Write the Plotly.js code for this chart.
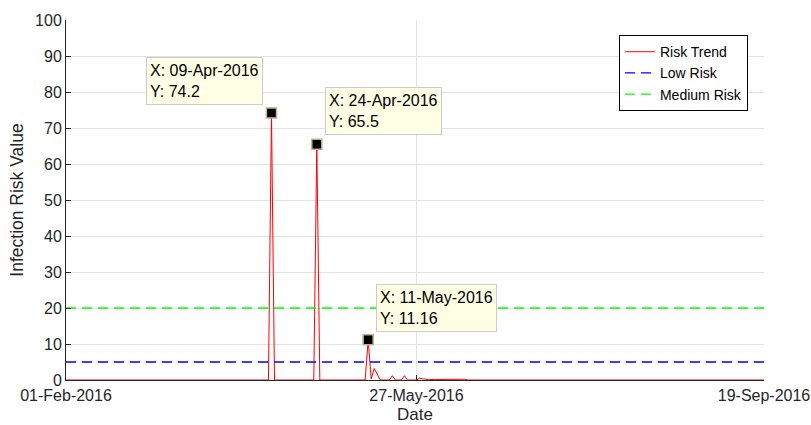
<!DOCTYPE html>
<html>
<head>
<meta charset="utf-8">
<script src="https://cdn.plot.ly/plotly-3.0.1.min.js"></script>
<style>
html,body{margin:0;padding:0;background:#fff;}
#chart{width:811px;height:425px;}
</style>
</head>
<body>
<div id="chart"></div>
<script>
// Risk trend series (days not listed are 0; line is linear between listed points)
const trendDates = [
  '2016-02-01','2016-04-08','2016-04-09','2016-04-10',
  '2016-04-23','2016-04-24','2016-04-25',
  '2016-05-10','2016-05-11','2016-05-12','2016-05-13','2016-05-14','2016-05-15',
  '2016-05-18','2016-05-19','2016-05-20',
  '2016-05-22','2016-05-23','2016-05-24',
  '2016-05-27','2016-05-28','2016-05-29','2016-05-30','2016-05-31',
  '2016-06-02','2016-06-04','2016-06-06','2016-06-08','2016-06-10','2016-06-12','2016-06-13',
  '2016-09-19'
];
const trendValues = [
  0, 0, 74.2, 0,
  0, 65.5, 0,
  0, 11.16, 0.3, 3.2, 1.4, 0,
  0, 1.2, 0,
  0, 1.2, 0,
  0, 0.5, 0.35, 0.2, 0.1,
  0.15, 0.2, 0.15, 0.2, 0.15, 0.2, 0,
  0
];
const rangeDates = ['2016-02-01', '2016-09-19'];
const lowRisk = 5;
const mediumRisk = 20;
const tipDates = ['2016-04-09', '2016-04-24', '2016-05-11'];
const tipValues = [74.2, 65.5, 11.16];
const tipLabels = ['09-Apr-2016', '24-Apr-2016', '11-May-2016'];
const tickDates = ['2016-02-01', '2016-05-27', '2016-09-19'];
const tickLabels = ['01-Feb-2016', '27-May-2016', '19-Sep-2016'];
const yTicks = [0,10,20,30,40,50,60,70,80,90,100];
const xTitle = 'Date';
const yTitle = 'Infection Risk Value';

const FONT = 'Liberation Sans, Arial, Helvetica, sans-serif';
const DARK = '#262626';

const traces = [
  {x: trendDates, y: trendValues, type: 'scatter', mode: 'lines', name: 'Risk Trend',
   line: {color: '#ff0000', width: 1}},
  {x: rangeDates, y: [lowRisk, lowRisk], type: 'scatter', mode: 'lines', name: 'Low Risk',
   line: {color: '#0000ff', width: 1.3, dash: '10px,6px'}},
  {x: rangeDates, y: [mediumRisk, mediumRisk], type: 'scatter', mode: 'lines', name: 'Medium Risk',
   line: {color: '#00ff00', width: 1.3, dash: '10px,6px'}},
  {x: tipDates, y: tipValues, type: 'scatter', mode: 'markers', showlegend: false,
   marker: {symbol: 'square', size: 10, color: '#000000', line: {color: '#b8b48c', width: 1.5}}}
];

const shifts = [
  {xanchor: 'right', xshift: -8, yshift: 8},
  {xanchor: 'left', xshift: 8, yshift: 9},
  {xanchor: 'left', xshift: 8, yshift: 8}
];
const annotations = tipDates.map((d, i) => ({
  x: d, y: tipValues[i], xref: 'x', yref: 'y',
  text: 'X: ' + tipLabels[i] + '<br>Y: ' + tipValues[i],
  showarrow: false, align: 'left', valign: 'middle', height: 40,
  xanchor: shifts[i].xanchor, yanchor: 'bottom',
  xshift: shifts[i].xshift, yshift: shifts[i].yshift,
  bgcolor: '#ffffe6', bordercolor: '#cccccc', borderwidth: 1, borderpad: 3,
  font: {family: FONT, size: 16, color: '#000000'}
}));
// x-axis title placed as paper annotation (below tick labels)
annotations.push({
  text: xTitle, xref: 'paper', yref: 'paper', x: 0.5, y: -0.125,
  xanchor: 'center', yanchor: 'bottom', showarrow: false, borderpad: 0,
  font: {family: FONT, size: 17, color: DARK}
});

const layout = {
  width: 811, height: 425,
  margin: {l: 66, r: 47, t: 20, b: 45, pad: 0},
  paper_bgcolor: '#ffffff', plot_bgcolor: '#ffffff',
  font: {family: FONT, color: DARK},
  showlegend: true,
  legend: {x: 0.977, y: 0.958, xanchor: 'right', yanchor: 'top',
    bgcolor: '#ffffff', bordercolor: '#000000', borderwidth: 1,
    font: {family: FONT, size: 14, color: '#000000'}, tracegroupgap: 0},
  xaxis: {type: 'date', range: rangeDates, tickvals: tickDates, ticktext: tickLabels,
    ticks: 'inside', ticklen: 5, tickcolor: DARK, tickfont: {size: 16, color: DARK},
    ticklabelstandoff: 1,
    showgrid: true, gridcolor: '#e3e3e3', showline: true, linecolor: DARK, linewidth: 1,
    zeroline: false, mirror: false},
  yaxis: {range: [0, 100], tickvals: yTicks,
    ticks: 'inside', ticklen: 5, tickcolor: DARK, tickfont: {size: 16, color: DARK},
    showgrid: true, gridcolor: '#e3e3e3', showline: true, linecolor: DARK, linewidth: 1,
    zeroline: false, mirror: false,
    title: {text: yTitle, font: {size: 17.5, color: DARK}, standoff: 6}},
  annotations: annotations
};

Plotly.newPlot('chart', traces, layout, {displayModeBar: false, staticPlot: true});
</script>
</body>
</html>
